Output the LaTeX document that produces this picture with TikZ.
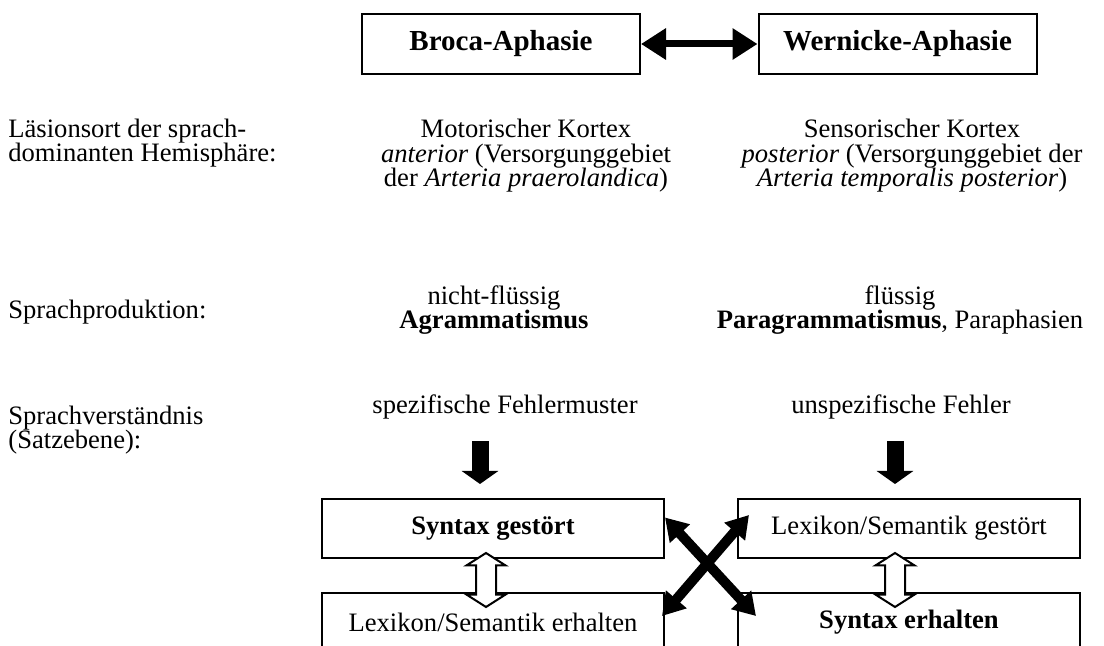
\documentclass[tikz,border=0pt]{standalone}
\usepackage{fontspec}
\setmainfont{Liberation Serif}
\usetikzlibrary{arrows.meta, positioning, shapes.arrows, calc}

\begin{document}
\begin{tikzpicture}[x=0.5pt, y=-0.5pt,
  every node/.style={font=\fontsize{13.3}{12.3}\selectfont},
  headbox/.style={draw, line width=1pt, minimum width=139pt, minimum height=30pt,
                  font=\fontsize{14.5}{16}\selectfont\bfseries},
  cellbox/.style={draw, line width=1pt, minimum width=171pt, minimum height=29.5pt},
  rowlbl/.style={anchor=base west, align=left, inner sep=0pt},
  coltxt/.style={anchor=base, align=center, inner sep=0pt},
  both/.style={line width=3.5pt, {Triangle[width=15pt,length=12.5pt]}-{Triangle[width=15pt,length=12.5pt]}},
  down/.style={line width=8.5pt, -{Triangle[width=18pt,length=6.5pt]}},
  cross/.style={line width=5pt, {Triangle[width=13pt,length=11pt]}-{Triangle[width=13pt,length=11pt]}},
  hollow/.style={double arrow, draw, line width=1pt, fill=white, rotate=90, inner xsep=0pt,
                 inner ysep=4.5pt, minimum height=27pt, double arrow head extend=4.75pt,
                 double arrow tip angle=115}
]
\path[use as bounding box, clip] (0,0) rectangle (1104,646);

% header
\node[headbox] (broca) at (501,44)   {Broca-Aphasie};
\node[headbox] (wern)  at (897.5,44) {Wernicke-Aphasie};
\draw[both] (broca) -- (wern);

% row labels (base = last line)
\node[rowlbl] (lesion) at (8,162) {Läsionsort der sprach-\\dominanten Hemisphäre:};
\node[rowlbl] (prod)   at (8,319) {Sprachproduktion:};
\node[rowlbl] (verst)  at (8,449) {Sprachverständnis\\(Satzebene):};

% Broca column
\node[coltxt] (motor) at (526,187)
  {Motorischer Kortex\\\textit{anterior} (Versorgunggebiet\\der \textit{Arteria praerolandica})};
\node[coltxt] (nfl)  at (494,329) {nicht-flüssig\\\textbf{Agrammatismus}};
\node[coltxt] (spez) at (505,414) {spezifische Fehlermuster};

% Wernicke column
\node[coltxt] (sens) at (912,187)
  {Sensorischer Kortex\\\textit{posterior} (Versorgunggebiet der\\\textit{Arteria temporalis posterior})};
\node[coltxt] (fl)   at (900,329) {flüssig\\\textbf{Paragrammatismus}, Paraphasien};
\node[coltxt] (unsp) at (901,414) {unspezifische Fehler};

% result boxes
\node[cellbox] (syn)    at (493,528.5) {\textbf{Syntax gestört}};
\node[cellbox] (lexe)   at (493,622.5) {Lexikon/Semantik erhalten};
\node[cellbox] (lexg)   at (909,528.5) {Lexikon/Semantik gestört};
\node[cellbox] (synerh) at (909,622.5) {\textbf{Syntax erhalten}};

\draw[down] ([xshift=-12.5pt,yshift=-10.5pt]spez.south) -- ([xshift=-6.5pt,yshift=7pt]syn.north);
\draw[down] ([xshift=-3pt,yshift=-10.5pt]unsp.south) -- ([xshift=-7pt,yshift=7pt]lexg.north);

\node[hollow] (hl) at ($(syn.south)!.5!(lexe.north)+(-7,4.5)$) {};
\node[hollow] (hr) at ($(lexg.south)!.5!(synerh.north)+(-14,4.5)$) {};

\draw[cross] ([yshift=5.5pt]syn.east) -- ([xshift=9.5pt,yshift=-12pt]synerh.north west);
\draw[cross] ([xshift=6pt,yshift=6.75pt]lexg.west) -- ([xshift=-1.5pt,yshift=-12pt]lexe.north east);
\end{tikzpicture}
\end{document}
